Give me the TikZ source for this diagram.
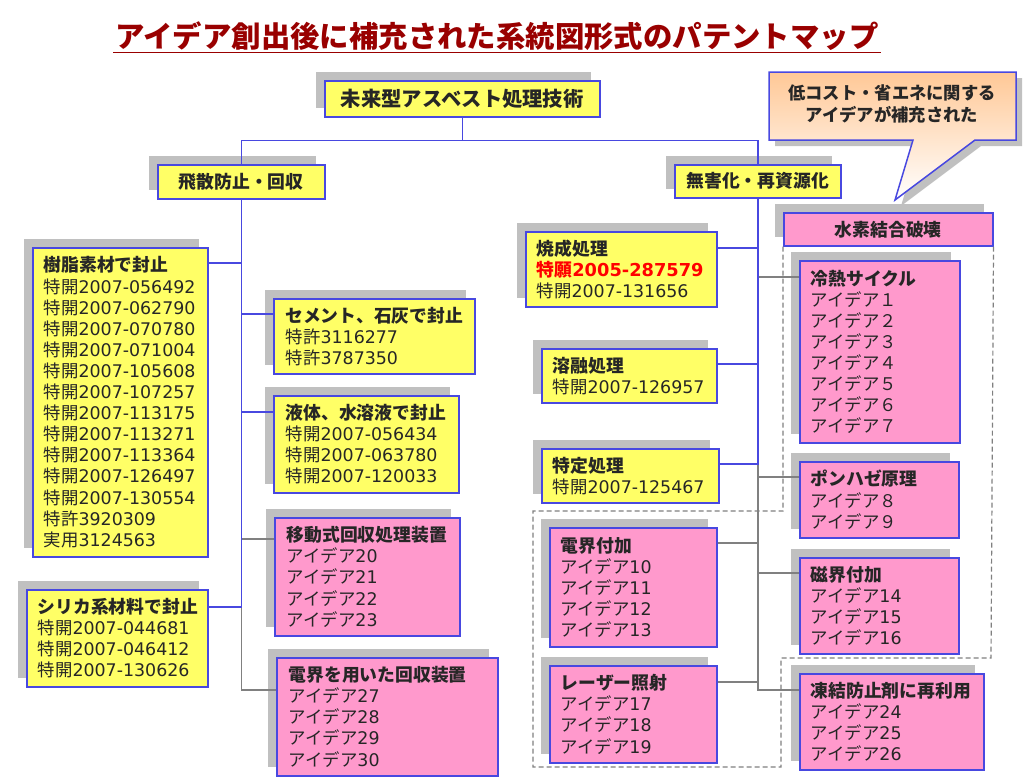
\documentclass[tikz,border=0pt]{standalone}
\usepackage{fontspec}
\setmainfont{DejaVu Sans}
\newfontfamily\jpfont{Noto Sans CJK JP}
\usetikzlibrary{positioning,calc,shadows}

\newXeTeXintercharclass\jpclass
\newcount\jpc
\jpc="3000
\loop
  \XeTeXcharclass\jpc=\jpclass
  \advance\jpc by 1
\ifnum\jpc<"A000 \repeat
\jpc="FF00
\loop
  \XeTeXcharclass\jpc=\jpclass
  \advance\jpc by 1
\ifnum\jpc<"FFF0 \repeat
\XeTeXinterchartoks 0 \jpclass = {\jpfont}
\XeTeXinterchartoks 4095 \jpclass = {\jpfont}
\XeTeXinterchartoks \jpclass 0 = {\rmfamily}
\XeTeXinterchartoks 4095 0 = {\rmfamily}
\XeTeXinterchartokenstate=1

\definecolor{boxblue}{RGB}{72,72,224}
\definecolor{boxyellow}{RGB}{255,255,102}
\definecolor{boxpink}{RGB}{255,153,204}
\definecolor{shadowgray}{RGB}{192,192,192}
\definecolor{linegray}{RGB}{128,128,128}
\definecolor{titlered}{RGB}{153,0,0}
\definecolor{calloutorange}{RGB}{255,200,150}
\newcommand{\hd}[1]{{\fontsize{17.8pt}{21.1pt}\selectfont\bfseries #1}}

\tikzset{
  box/.style={draw=boxblue, line width=1.5pt, anchor=north west, align=left,
    inner xsep=11pt, inner ysep=2pt, text=black!85,
    font=\fontsize{17.4pt}{21.1pt}\selectfont,
    drop shadow={shadow xshift=-9pt, shadow yshift=9pt, fill=shadowgray, opacity=1}},
  ybox/.style={box, fill=boxyellow},
  pbox/.style={box, fill=boxpink},
  headbox/.style={box, align=center, inner xsep=0pt, font=\fontsize{17.8pt}{21.1pt}\selectfont\bfseries},
  bl/.style={draw=boxblue, line width=1.5pt},
  gl/.style={draw=linegray, line width=1.5pt},
  group/.style={draw=linegray, line width=1.2pt, dash pattern=on 5pt off 3pt}
}

\begin{document}
\begin{tikzpicture}[x=1pt,y=-1pt]
    \useasboundingbox (0,0) rectangle (1024,779);

    \node[text=titlered, inner sep=2pt, font=\fontsize{29.4pt}{32pt}\selectfont\bfseries] (title) at (497,36) {アイデア創出後に補充された系統図形式のパテントマップ};
    \draw[titlered, line width=1.5pt] (title.south west) -- (title.south east);

    \node[headbox, fill=boxyellow, minimum width=275pt, minimum height=36pt, font=\fontsize{20.3pt}{24pt}\selectfont\bfseries] (root) at (324,80) {未来型アスベスト処理技術};
    \node[headbox, fill=boxyellow, minimum width=167pt, minimum height=34pt] (hisan) at (157,164) {飛散防止・回収};
    \node[headbox, fill=boxyellow, minimum width=166pt, minimum height=33pt] (mugai) at (674,164) {無害化・再資源化};
    \node[headbox, fill=boxpink, minimum width=209pt, minimum height=33pt] (suiso) at (783,212) {水素結合破壊};

    \node[ybox, text width=153pt, minimum height=309pt] (jushi) at (32,247) {\hd{樹脂素材で封止}\\特開2007-056492\\特開2007-062790\\特開2007-070780\\特開2007-071004\\特開2007-105608\\特開2007-107257\\特開2007-113175\\特開2007-113271\\特開2007-113364\\特開2007-126497\\特開2007-130554\\特許3920309\\実用3124563};
    \node[ybox, text width=159pt, minimum height=97pt] (silica) at (26,589) {\hd{シリカ系材料で封止}\\特開2007-044681\\特開2007-046412\\特開2007-130626};
    \node[ybox, text width=177pt, minimum height=75pt, inner xsep=12pt] (cement) at (273,298) {\hd{セメント、石灰で封止}\\特許3116277\\特許3787350};
    \node[ybox, text width=161pt, minimum height=97pt, inner xsep=12pt] (ekitai) at (273,395) {\hd{液体、水溶液で封止}\\特開2007-056434\\特開2007-063780\\特開2007-120033};
    \node[pbox, text width=161pt, minimum height=118pt, inner xsep=12pt] (idou) at (274,517) {\hd{移動式回収処理装置}\\アイデア20\\アイデア21\\アイデア22\\アイデア23};
    \node[pbox, text width=197pt, minimum height=118pt, inner xsep=12pt] (denkai_kaishu) at (276,657) {\hd{電界を用いた回収装置}\\アイデア27\\アイデア28\\アイデア29\\アイデア30};

    \node[ybox, text width=169pt, minimum height=75pt] (shosei) at (525,231) {\hd{焼成処理}\\\textcolor{red}{\hd{特願2005-287579}}\\特開2007-131656};
    \node[ybox, text width=153pt, minimum height=54pt] (yuyu) at (541,348) {\hd{溶融処理}\\特開2007-126957};
    \node[ybox, text width=155pt, minimum height=54pt] (tokutei) at (541,448) {\hd{特定処理}\\特開2007-125467};
    \node[pbox, text width=145pt, minimum height=119pt] (denkai) at (549,527) {\hd{電界付加}\\アイデア10\\アイデア11\\アイデア12\\アイデア13};
    \node[pbox, text width=145pt, minimum height=97pt] (laser) at (549,665) {\hd{レーザー照射}\\アイデア17\\アイデア18\\アイデア19};

    \node[pbox, text width=138pt, minimum height=182pt] (reinetsu) at (799,260) {\hd{冷熱サイクル}\\アイデア１\\アイデア２\\アイデア３\\アイデア４\\アイデア５\\アイデア６\\アイデア７};
    \node[pbox, text width=137pt, minimum height=76pt] (ponhaze) at (799,461) {\hd{ポンハゼ原理}\\アイデア８\\アイデア９};
    \node[pbox, text width=137pt, minimum height=96pt] (jikai) at (799,557) {\hd{磁界付加}\\アイデア14\\アイデア15\\アイデア16};
    \node[pbox, text width=162pt, minimum height=96pt] (touketsu) at (799,673) {\hd{凍結防止剤に再利用}\\アイデア24\\アイデア25\\アイデア26};

    \fill[shadowgray, shift={(6,6)}] (769,72) -- (1016,72) -- (1016,140) -- (975,140) -- (895,200) -- (913,140) -- (769,140) -- cycle;
    \shadedraw[top color=calloutorange, bottom color=white, draw=boxblue, line width=1.5pt] (769,72) -- (1016,72) -- (1016,140) -- (975,140) -- (895,200) -- (913,140) -- (769,140) -- cycle;
    \node[align=center, text=black!85, font=\fontsize{17.3pt}{22pt}\selectfont\bfseries] (callout) at (892,104) {低コスト・省エネに関する\\アイデアが補充された};

    \draw[group] (suiso.south west) -- (783,511) -- (533,511) -- (533,767) -- (781,767) -- (781,658) -- (991,658) -- (suiso.south east);

    \draw[bl] (root.south) -- ++(0,23) -| (hisan.north);
    \draw[bl] (root.south) -- ++(0,23) -| (mugai.north);

    \draw[gl] ($(idou.north west)+(0,22)$) -| (hisan.south);
    \draw[gl] ($(denkai_kaishu.north west)+(0,33)$) -| (hisan.south);
    \draw[bl] ($(jushi.north east)+(0,16)$) -| (hisan.south);
    \draw[bl] ($(cement.north west)+(0,16)$) -| (hisan.south);
    \draw[bl] ($(ekitai.north west)+(0,17)$) -| (hisan.south);
    \draw[bl] ($(silica.north east)+(0,18)$) -| (hisan.south);

    \draw[gl] ($(reinetsu.north west)+(0,17)$) -| (mugai.south);
    \draw[gl] ($(ponhaze.north west)+(0,16)$) -| (mugai.south);
    \draw[gl] ($(denkai.north east)+(0,16)$) -| (mugai.south);
    \draw[gl] ($(jikai.north west)+(0,16)$) -| (mugai.south);
    \draw[gl] ($(laser.north east)+(0,17)$) -| (mugai.south);
    \draw[gl] ($(touketsu.north west)+(0,17)$) -| (mugai.south);
    \draw[bl] ($(shosei.north east)+(0,17)$) -| (mugai.south);
    \draw[bl] ($(yuyu.north east)+(0,16)$) -| (mugai.south);
    \draw[bl] ($(tokutei.north east)+(0,16)$) -| (mugai.south);
\end{tikzpicture}
\end{document}
